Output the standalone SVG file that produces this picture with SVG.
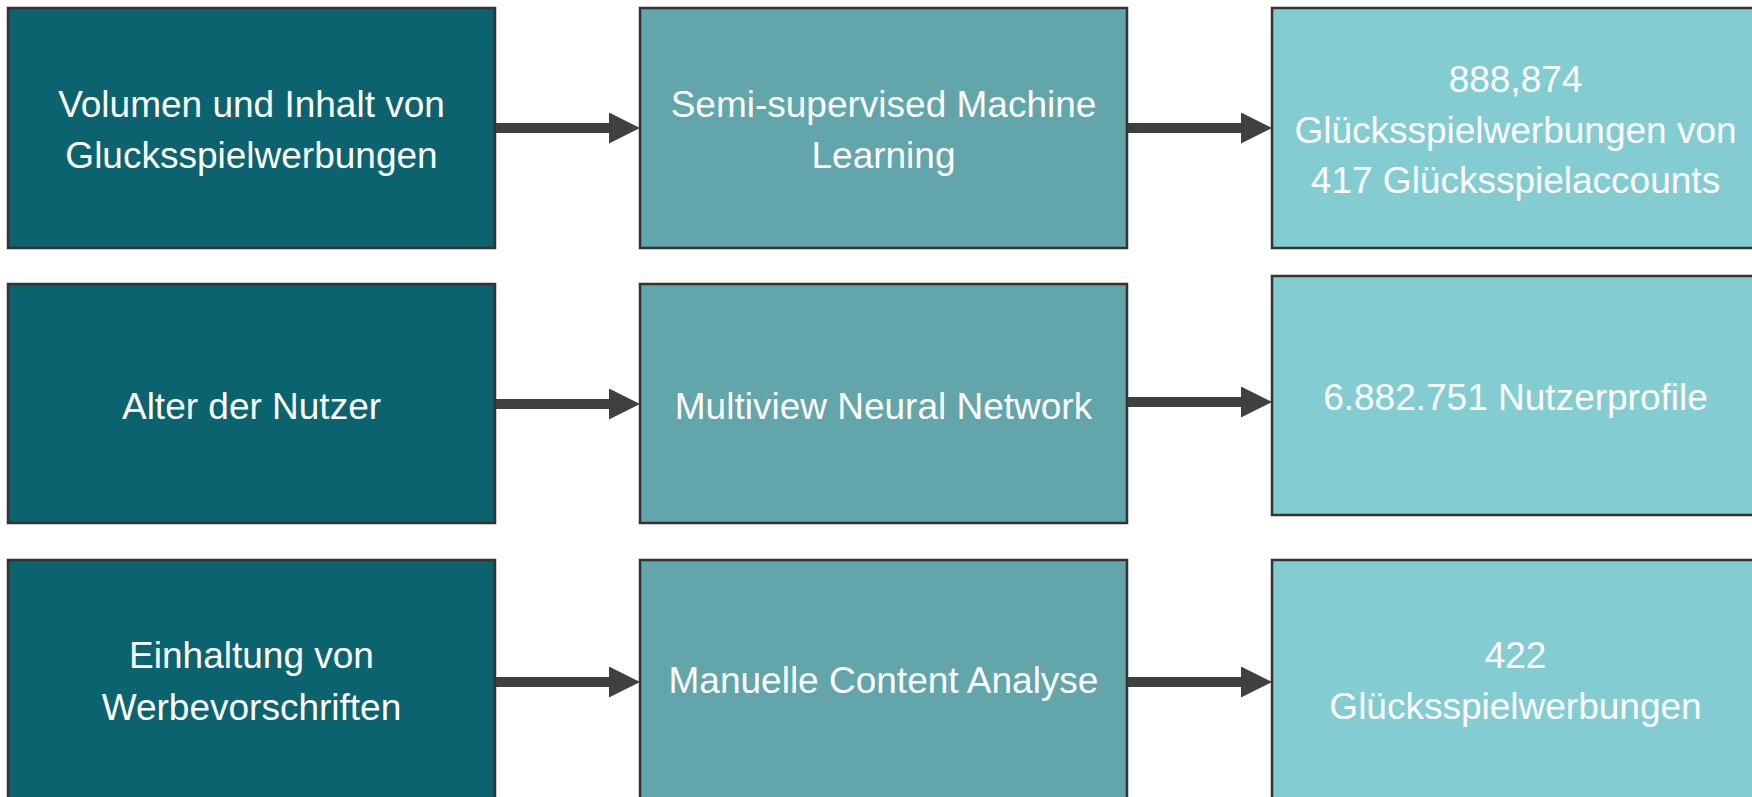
<svg xmlns="http://www.w3.org/2000/svg" width="1752" height="797" viewBox="0 0 1752 797">
  <defs>
    <style>
      .box { stroke: #333333; stroke-width: 2.5; }
      .c1 { fill: #0B636F; }
      .c2 { fill: #62A5AA; }
      .c3 { fill: #83CDD2; }
      .lbl { font-family: "Liberation Sans", Arial, sans-serif; font-size: 37px; fill: #FFFFFF; text-anchor: middle; }
      .conn { stroke: #404040; stroke-width: 10; fill: none; }
    </style>
    <marker id="head" markerUnits="userSpaceOnUse" markerWidth="31" markerHeight="31" refX="0" refY="15.5" orient="auto">
      <path d="M0,0 L31,15.5 L0,31 Z" fill="#404040"/>
    </marker>
  </defs>
  <rect width="1752" height="797" fill="#FFFFFF"/>

  <g id="connectors">
    <line class="conn" x1="495" y1="128" x2="609" y2="128" marker-end="url(#head)"/>
    <line class="conn" x1="1127" y1="128" x2="1241" y2="128" marker-end="url(#head)"/>
    <line class="conn" x1="495" y1="404" x2="609" y2="404" marker-end="url(#head)"/>
    <line class="conn" x1="1127" y1="402" x2="1241" y2="402" marker-end="url(#head)"/>
    <line class="conn" x1="495" y1="682" x2="609" y2="682" marker-end="url(#head)"/>
    <line class="conn" x1="1127" y1="682" x2="1241" y2="682" marker-end="url(#head)"/>
  </g>

  <g id="node-volumen">
    <rect class="box c1" x="8" y="8" width="487" height="240"/>
    <text class="lbl" x="251.5" y="117">Volumen und Inhalt von</text>
    <text class="lbl" x="251.5" y="168">Glucksspielwerbungen</text>
  </g>
  <g id="node-semi">
    <rect class="box c2" x="640" y="8" width="487" height="240"/>
    <text class="lbl" x="883.5" y="117">Semi-supervised Machine</text>
    <text class="lbl" x="883.5" y="168">Learning</text>
  </g>
  <g id="node-888">
    <rect class="box c3" x="1272" y="8" width="487" height="240"/>
    <text class="lbl" x="1515.5" y="92">888,874</text>
    <text class="lbl" x="1515.5" y="143">Glücksspielwerbungen von</text>
    <text class="lbl" x="1515.5" y="193">417 Glücksspielaccounts</text>
  </g>

  <g id="node-alter">
    <rect class="box c1" x="8" y="284" width="487" height="239"/>
    <text class="lbl" x="251.5" y="419">Alter der Nutzer</text>
  </g>
  <g id="node-multiview">
    <rect class="box c2" x="640" y="284" width="487" height="239"/>
    <text class="lbl" x="883.5" y="419">Multiview Neural Network</text>
  </g>
  <g id="node-nutzerprofile">
    <rect class="box c3" x="1272" y="276" width="487" height="239"/>
    <text class="lbl" x="1515.5" y="410">6.882.751 Nutzerprofile</text>
  </g>

  <g id="node-einhaltung">
    <rect class="box c1" x="8" y="560" width="487" height="250"/>
    <text class="lbl" x="251.5" y="668">Einhaltung von</text>
    <text class="lbl" x="251.5" y="720">Werbevorschriften</text>
  </g>
  <g id="node-manuelle">
    <rect class="box c2" x="640" y="560" width="487" height="250"/>
    <text class="lbl" x="883.5" y="693">Manuelle Content Analyse</text>
  </g>
  <g id="node-422">
    <rect class="box c3" x="1272" y="560" width="487" height="250"/>
    <text class="lbl" x="1515.5" y="668">422</text>
    <text class="lbl" x="1515.5" y="719">Glücksspielwerbungen</text>
  </g>
</svg>
